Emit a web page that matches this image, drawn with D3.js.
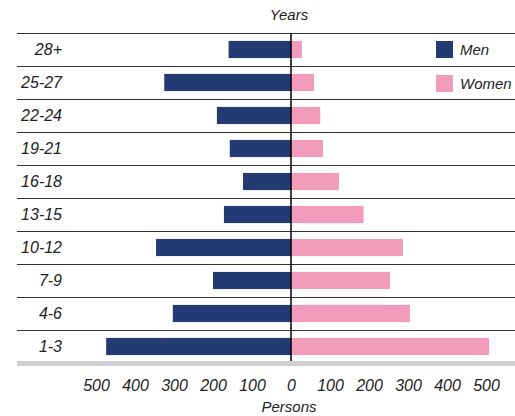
<!DOCTYPE html>
<html>
<head>
<meta charset="utf-8">
<script src="https://cdn.jsdelivr.net/npm/d3@7"></script>
<style>
  body { margin: 0; background: #fff; }
  svg text { font-family: "Liberation Sans", Arial, Helvetica, sans-serif; font-style: italic; fill: #222; }
</style>
</head>
<body>
<div id="chart"></div>
<script>
// Age groups in years, top row first
const ageGroups = ['28+', '25-27', '22-24', '19-21', '16-18', '13-15', '10-12', '7-9', '4-6', '1-3'];
const men = [160, 325, 190, 157, 123, 172, 346, 200, 303, 474];
const women = [28, 59, 75, 82, 123, 186, 287, 254, 305, 508];
const tickValues = [-500, -400, -300, -200, -100, 0, 100, 200, 300, 400, 500];
const seriesNames = ['Men', 'Women'];

const NAVY = '#243a73';
const PINK = '#f39bba';

const width = 515, height = 416;
const svg = d3.select('#chart').append('svg')
    .attr('width', width).attr('height', height);

const x = d3.scaleLinear().domain([-500, 500]).range([96, 486]);
const y = d3.scaleBand().domain(ageGroups).range([33, 363]).padding(0);
const barH = y.bandwidth() * 0.52;
const barY = (d) => y(d) + (y.bandwidth() - barH) / 2;

// row separators
svg.append('g').selectAll('line').data(ageGroups).join('line')
    .attr('x1', 17).attr('x2', width)
    .attr('y1', (d) => Math.round(y(d)) + 0.5)
    .attr('y2', (d) => Math.round(y(d)) + 0.5)
    .attr('stroke', '#333').attr('stroke-width', 1.2);

// thick grey base
svg.append('rect')
    .attr('x', 17).attr('y', 361).attr('width', width - 17).attr('height', 5)
    .attr('fill', '#d0d0d0');

// bars
const rows = ageGroups.map((g, i) => ({ g, m: men[i], w: women[i] }));
svg.append('g').selectAll('rect').data(rows).join('rect')
    .attr('x', (d) => x(-d.m)).attr('y', (d) => barY(d.g))
    .attr('width', (d) => x(0) - x(-d.m)).attr('height', barH)
    .attr('fill', NAVY);
svg.append('g').selectAll('rect').data(rows).join('rect')
    .attr('x', x(0)).attr('y', (d) => barY(d.g))
    .attr('width', (d) => x(d.w) - x(0)).attr('height', barH)
    .attr('fill', PINK);

// zero line
svg.append('line')
    .attr('x1', x(0)).attr('x2', x(0)).attr('y1', 33).attr('y2', 361)
    .attr('stroke', '#000').attr('stroke-width', 1.5);

// row labels
svg.append('g').selectAll('text').data(ageGroups).join('text')
    .attr('x', 62).attr('y', (d) => y(d) + y.bandwidth() / 2)
    .attr('dy', '0.35em').attr('text-anchor', 'end')
    .style('font-size', '16px')
    .text((d) => d);

// x axis
const gx = svg.append('g').attr('transform', 'translate(0,377)')
    .call(d3.axisBottom(x).tickValues(tickValues).tickSize(0).tickFormat((d) => Math.abs(d)));
gx.select('.domain').remove();
gx.selectAll('text')
    .attr('fill', '#222')
    .style('font-size', '16px')
    .style('font-family', '"Liberation Sans", Arial, sans-serif')
    .style('font-style', 'italic');

svg.append('text')
    .attr('x', 289).attr('y', 407).attr('dy', '0.35em')
    .attr('text-anchor', 'middle').style('font-size', '15px')
    .text('Persons');
svg.append('text')
    .attr('x', 289).attr('y', 15).attr('dy', '0.35em')
    .attr('text-anchor', 'middle').style('font-size', '15px')
    .text('Years');

// legend
const legend = svg.append('g').selectAll('g').data(seriesNames).join('g')
    .attr('transform', (d, i) => `translate(436,${41 + i * 34})`);
legend.append('rect').attr('width', 17).attr('height', 17)
    .attr('fill', (d, i) => (i === 0 ? NAVY : PINK));
legend.append('text').attr('x', 24).attr('y', 8.5).attr('dy', '0.35em')
    .style('font-size', '15px').text((d) => d);
</script>
</body>
</html>
